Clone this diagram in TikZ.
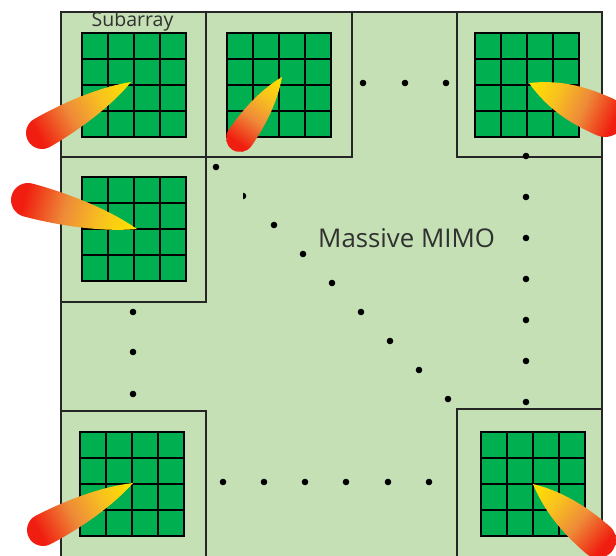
\documentclass[tikz,border=0pt]{standalone}
\usepackage{fontspec}
\setmainfont{Open Sans}
\begin{document}
\definecolor{panel}{HTML}{C5E0B4}
\definecolor{cell}{HTML}{00B050}
\definecolor{edge}{HTML}{262626}
\definecolor{labelgray}{HTML}{303030}
\definecolor{beamyellow}{HTML}{FFE000}
\definecolor{beamamber}{HTML}{F8C020}
\definecolor{beamorange}{HTML}{EE8A38}
\definecolor{beamred}{HTML}{F01E10}
% yellow at the tip, red at the rounded end (25bp..75bp spans the path)
\pgfdeclarehorizontalshading{beamshade}{100bp}{%
  color(0bp)=(beamyellow); color(27bp)=(beamyellow); color(40bp)=(beamamber);
  color(54bp)=(beamorange); color(70bp)=(beamred); color(100bp)=(beamred)}
% 4x4 antenna grid with its upper left corner at (#1,#2)
\newcommand\subgrid[2]{%
  \fill[cell] (#1,#2) rectangle ++(104,104);
  \foreach \k in {26,52,78} {
    \draw[gridline] (#1+\k,#2) -- ++(0,104);
    \draw[gridline] (#1,#2+\k) -- ++(104,0);
  }
  \draw[gridline] (#1,#2) rectangle ++(104,104);
}
% beam lobe: tip (#1,#2), centre of the rounded end (#3,#4), end radius #5
\newcommand\beam[5]{%
  \pgfmathsetmacro\bang{atan2(#2-#4,#3-#1)}%
  \pgfmathsetmacro\blen{veclen(#3-#1,#4-#2)}%
  \begin{scope}[transform canvas={shift={(#1,#2)},rotate=\bang}]
    \shade[shading=beamshade]
      (0,0) .. controls ({0.35*\blen},{0.85*#5}) and ({\blen-1.4*#5},#5) .. (\blen,#5)
      arc[start angle=90,end angle=-90,radius=#5]
      .. controls ({\blen-1.4*#5},-#5) and ({0.35*\blen},{-0.85*#5}) .. (0,0) -- cycle;
  \end{scope}}
\begin{tikzpicture}[x=1pt,y=-1pt,
  gridline/.style={black,line width=2pt},
  boxline/.style={edge,line width=1.5pt},
  dot/.style={black}]
\useasboundingbox (0,0) rectangle (616,556);
% array panel
\fill[panel] (61,12) rectangle (603,570);
\draw[boxline] (61,570) -- (61,12) -- (602,12) -- (602,570);
% subarray frames
\draw[boxline] (61,12) rectangle (206,157);
\draw[boxline] (206,12) rectangle (352,157);
\draw[boxline] (457,12) rectangle (602,157);
\draw[boxline] (61,157) rectangle (206,302);
\draw[boxline] (61,570) -- (61,411) -- (206,411) -- (206,570);
\draw[boxline] (457,570) -- (457,409) -- (602,409) -- (602,570);
% antenna grids
\subgrid{82}{33}
\subgrid{227}{33}
\subgrid{475}{33}
\subgrid{82}{177}
\subgrid{80}{432}
\subgrid{481}{432}
% ellipsis dots
\foreach \p in {(363,83),(405,83),(446,83),
  (526,156),(526,197),(526,238),(526,279),(526,320),(526,361),(526,402),
  (133,312),(133,352),(133,394),
  (223,482),(264,482),(305,482),(346,482),(388,482),(429,482),
  (216,167),(274,225),(303,254),(332,283),(361,312),(390,341),(419,370),(448,399)}
  \fill[dot] \p circle (3.3);
\begin{scope}
  \clip (243,190) rectangle (249,202);
  \fill[dot] (243,196) circle (3.3);
\end{scope}
% labels
\node[font=\fontsize{19.5}{23}\selectfont,text=labelgray,anchor=base,inner sep=0]
  (sublabel) at (132.5,27) {Subarray};
\node[font=\fontsize{25.8}{30}\selectfont,text=labelgray,anchor=base west,inner sep=0]
  (mimo) at (318,248) {Massive MIMO};
% beams
\beam{131}{82}{42}{133}{16}
\beam{282}{77}{240}{138}{14}
\beam{529}{83}{605}{117}{20}
\beam{137}{229}{28}{200}{17}
\beam{133}{483}{43}{530}{16}
\beam{533}{484}{598}{540}{18}
\end{tikzpicture}
\end{document}
